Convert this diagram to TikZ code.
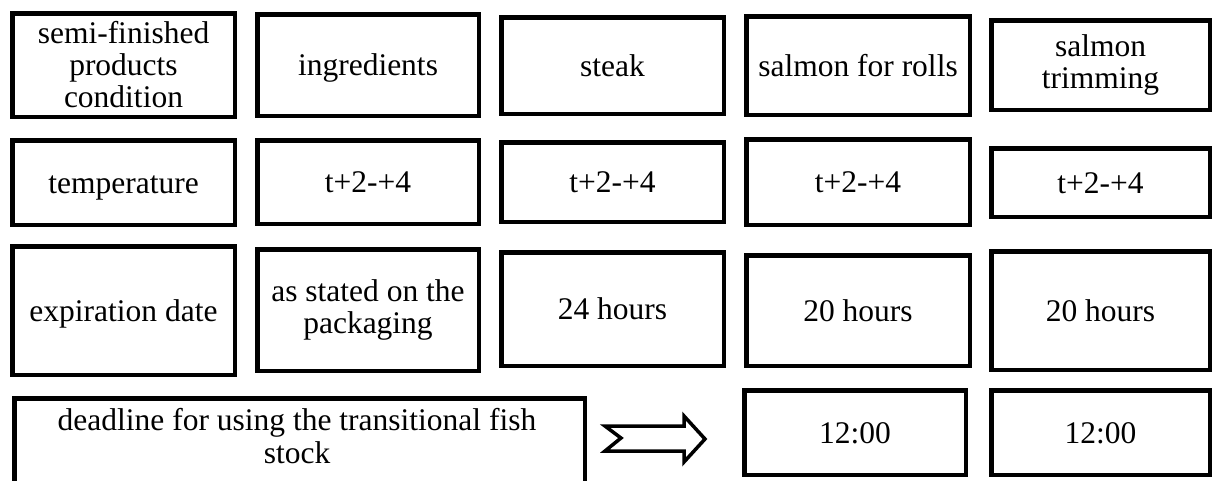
\documentclass[tikz,border=0pt]{standalone}
\usepackage{fontspec}
\setmainfont{Liberation Serif}
\newfontfamily\tnr{Liberation Serif}
\begin{document}
\begin{tikzpicture}[x=1pt,y=-1pt,
  cell/.style={draw=black,line width=4.5pt,rectangle,inner sep=0pt,align=center,
    font=\tnr\fontsize{31.5}{32}\selectfont},
  oneline/.style={cell,text height=21.5pt,text depth=0pt},
  blockarrow/.style={draw=black,line width=3.5pt,fill=white,line join=miter}]
\useasboundingbox (0,0) rectangle (1213,480);
\clip (0,0) rectangle (1213,480);
\newcommand\bx[6]{\node[oneline,minimum width={#4-#2-4.5},minimum height={#5-#3-4.5}] (#1) at ({(#2+#4)/2},{(#3+#5)/2}) {#6};}
\newcommand\mbx[6]{\node[cell,minimum width={#4-#2-4.5},minimum height={#5-#3-4.5}] (#1) at ({(#2+#4)/2},{(#3+#5)/2}) {#6};}
% row 1
\mbx{h1}{10}{11}{237}{119}{semi-finished\\products\\condition}
\bx{h2}{255}{12}{481}{118}{ingredients}
\bx{h3}{499}{15}{726}{116}{steak}
\bx{h4}{744}{14}{972}{117}{salmon for rolls}
\mbx{h5}{989}{18}{1212}{112}{salmon\\trimming}
% row 2
\bx{t1}{10}{138}{237}{227}{temperature}
\bx{t2}{255}{138}{481}{226}{t+2-+4}
\bx{t3}{499}{140}{726}{224}{t+2-+4}
\bx{t4}{744}{137}{972}{227}{t+2-+4}
\bx{t5}{989}{146}{1212}{219}{t+2-+4}
% row 3
\bx{e1}{10}{244}{237}{377}{expiration date}
\mbx{e2}{255}{247}{481}{373}{as stated on the\\packaging}
\bx{e3}{499}{250}{726}{368}{24 hours}
\bx{e4}{744}{253}{972}{368}{20 hours}
\bx{e5}{989}{249}{1212}{372}{20 hours}
% row 4
\node[cell,minimum width={585-10-4.5},minimum height={490-394-4.5},anchor=north west] (d1) at (12.25,396.25) {};
\node[font=\tnr\fontsize{31.5}{33}\selectfont,align=center,inner sep=0pt,anchor=north] (d1t) at (297,408)
  {deadline for using the transitional fish\\stock};
\bx{d4}{742}{388}{968}{477}{12:00}
\bx{d5}{989}{388}{1212}{477}{12:00}
% block arrow
\coordinate (ar) at (605,426);
\draw[blockarrow] (ar) -- ++(79,0) -- ++(0,-10) -- ++(21,23) -- ++(-21,23) -- ++(0,-11)
  -- ++(-79,0) -- ++(16,-13) -- cycle;
\end{tikzpicture}
\end{document}
